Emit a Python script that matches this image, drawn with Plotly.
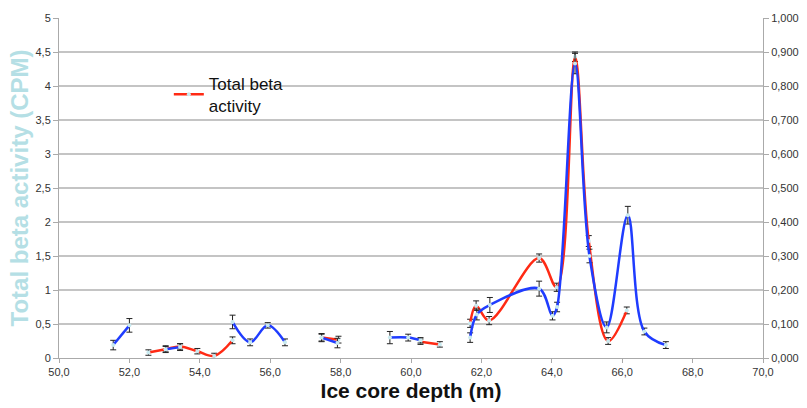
import plotly.graph_objects as go

# Red series: total beta activity (CPM), left axis; None = gap
red_x = [52.54, 53.03, 53.44, 53.93, 54.41, 54.93, None,
         57.46, 57.94, None,
         60.27, 60.82, None,
         61.68, 61.85, 62.22, 63.64, 64.14, 64.66, 65.05, 65.60, 66.13]
red_y = [0.08, 0.13, 0.17, 0.10, 0.03, 0.26, None,
         0.30, 0.27, None,
         0.24, 0.20, None,
         0.51, 0.77, 0.55, 1.47, 1.04, 4.43, 1.72, 0.25, 0.70]
red_err = [0.04, 0.04, 0.04, 0.04, 0.04, 0.05, None,
           0.05, 0.05, None,
           0.04, 0.04, None,
           0.06, 0.07, 0.06, 0.06, 0.06, 0.07, 0.08, 0.05, 0.05]

# Blue series: right axis values
blue_x = [51.54, 52.00, None,
          53.03, 53.44, None,
          54.93, 55.43, 55.93, 56.42, None,
          57.46, 57.91, None,
          59.40, 59.92, 60.27, None,
          61.68, 61.87, 62.24, 63.64, 64.02, 64.15, 64.66, 65.07, 65.56, 66.16, 66.63, 67.24]
blue_y = [0.038, 0.096, None,
          0.026, 0.032, None,
          0.106, 0.046, 0.096, 0.046, None,
          0.060, 0.044, None,
          0.060, 0.060, 0.052, None,
          0.060, 0.128, 0.156, 0.204, 0.124, 0.150, 0.866, 0.300, 0.090, 0.420, 0.078, 0.038]
blue_err = [0.014, 0.020, None,
            0.010, 0.010, None,
            0.020, 0.010, 0.008, 0.010, None,
            0.012, 0.014, None,
            0.018, 0.010, 0.008, None,
            0.014, 0.016, 0.022, 0.022, 0.012, 0.014, 0.030, 0.020, 0.016, 0.026, 0.010, 0.010]

x_ticks = [50, 52, 54, 56, 58, 60, 62, 64, 66, 68, 70]
x_labels = ["50,0", "52,0", "54,0", "56,0", "58,0", "60,0", "62,0", "64,0", "66,0", "68,0", "70,0"]
y_ticks = [0, 0.5, 1, 1.5, 2, 2.5, 3, 3.5, 4, 4.5, 5]
y_labels = ["0", "0,5", "1", "1,5", "2", "2,5", "3", "3,5", "4", "4,5", "5"]
y2_ticks = [0, 0.1, 0.2, 0.3, 0.4, 0.5, 0.6, 0.7, 0.8, 0.9, 1.0]
y2_labels = ["0,000", "0,100", "0,200", "0,300", "0,400", "0,500", "0,600", "0,700", "0,800", "0,900", "1,000"]

fig = go.Figure()
fig.add_trace(go.Scatter(
    x=red_x, y=red_y, name="Total beta<br>activity", mode="lines+markers",
    line=dict(color="#ff2a14", width=2.5, shape="spline", smoothing=1.0),
    marker=dict(color="#c8eaf0", size=4),
    error_y=dict(type="data", array=red_err, color="#222", thickness=1, width=3),
    connectgaps=False,
))
fig.add_trace(go.Scatter(
    x=blue_x, y=blue_y, yaxis="y2", showlegend=False, mode="lines+markers",
    line=dict(color="#1f3cff", width=2.5, shape="spline", smoothing=1.0),
    marker=dict(color="#c8eaf0", size=4),
    error_y=dict(type="data", array=blue_err, color="#222", thickness=1, width=3),
    connectgaps=False,
))

tickfont = dict(family="Liberation Sans, Arial, sans-serif", size=11, color="#333")
fig.update_layout(
    width=807, height=408,
    margin=dict(l=59, r=44, t=18, b=50, autoexpand=False),
    paper_bgcolor="white", plot_bgcolor="white",
    font=dict(family="Liberation Sans, Arial, sans-serif"),
    xaxis=dict(range=[50, 70], tickvals=x_ticks, ticktext=x_labels, tickfont=tickfont,
               showgrid=False, zeroline=False, showline=True, linecolor="#aaa",
               ticks="outside", ticklen=4, tickcolor="#aaa", automargin=False,
               title=dict(text="Ice core depth (m)", standoff=6,
                          font=dict(size=21, color="#111", weight="bold"))),
    yaxis=dict(range=[0, 5], tickvals=y_ticks, ticktext=y_labels, tickfont=tickfont,
               showgrid=True, gridcolor="#c4c4c4", gridwidth=1.5, zeroline=False,
               showline=True, linecolor="#aaa", ticks="outside", ticklen=5, tickcolor="#aaa",
               automargin=False,
               title=dict(text="Total beta activity (CPM)", standoff=0,
                          font=dict(size=24, color="#b5dfe5", weight="bold"))),
    yaxis2=dict(range=[0, 1], overlaying="y", side="right", tickvals=y2_ticks, ticktext=y2_labels,
                tickfont=tickfont, showgrid=False, zeroline=False, showline=True,
                linecolor="#aaa", ticks="outside", ticklen=5, tickcolor="#aaa", automargin=False),
    legend=dict(x=0.156, y=0.86, xanchor="left", yanchor="top", bgcolor="rgba(0,0,0,0)",
                font=dict(size=17, color="#111"), itemwidth=30),
)

fig.write_html("out.html")
